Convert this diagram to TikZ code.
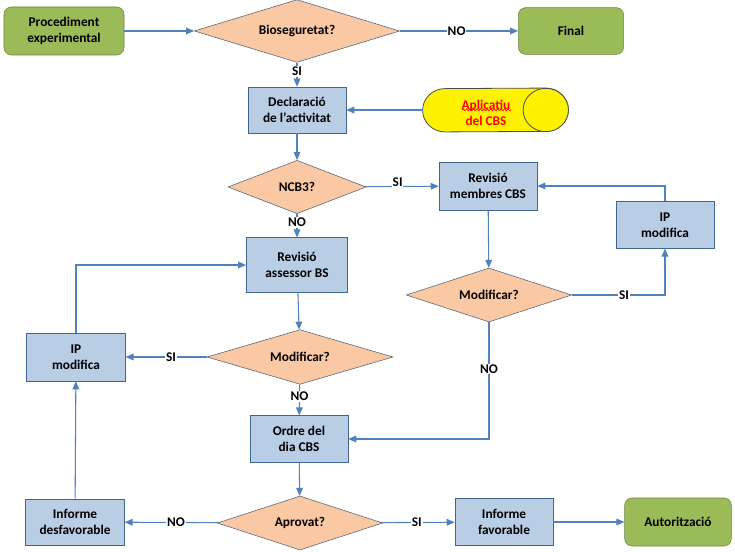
\documentclass[tikz,border=0pt]{standalone}
\usepackage{xcolor}
\usepackage{fontspec}
\setmainfont{Carlito}
\usepackage{tikz}
\usetikzlibrary{shapes.geometric, arrows.meta, decorations.pathmorphing}
\definecolor{termfill}{HTML}{9BBB59}
\definecolor{termline}{HTML}{6B8340}
\definecolor{procfill}{HTML}{B9CDE5}
\definecolor{procline}{HTML}{3F6591}
\definecolor{decfill}{HTML}{FAC8A2}
\definecolor{decline}{HTML}{4E5E74}
\definecolor{conn}{HTML}{4F81BD}
\tikzset{
    startstop/.style={rectangle, rounded corners=5.5pt, draw=termline, fill=termfill, align=center, font=\bfseries},
    process/.style={rectangle, draw=procline, fill=procfill, align=center, font=\bfseries},
    decision/.style={diamond, draw=decline, fill=decfill, inner sep=0pt, aspect=3, font=\bfseries},
    appbox/.style={draw=black!70, fill=yellow, line width=0.6pt},
    lbl/.style={fill=white, inner sep=0.6pt, font=\bfseries},
    arrow/.style={-{Triangle[length=6pt, width=5pt]}, draw=conn, line width=0.8pt}
}

\begin{document}
\begin{tikzpicture}[x=0.75pt, y=-0.75pt]
\useasboundingbox (0,0) rectangle (735,552);

% top row
\node (proc) [startstop, minimum width=90pt, minimum height=36pt] at (64,31) {Procediment\\experimental};
\node (bio) [decision, minimum width=154pt, minimum height=47pt] at (297,31) {Bioseguretat?};
\node (final) [startstop, minimum width=79pt, minimum height=35pt] at (571,31) {Final};

\node (decl) [process, minimum width=73.5pt, minimum height=34.5pt] at (297,110) {Declaració\\de l’activitat};
% application drum
\node (apl) [inner sep=0pt, minimum width=109pt, minimum height=32.5pt] at (495.5,110) {};
\draw[appbox] ([xshift=-17pt]apl.north east) arc (90:-90:17pt and 16.25pt)
    -- ([xshift=17pt]apl.south west) arc (270:90:17pt and 16.25pt) -- cycle;
\draw[appbox] ([xshift=-17pt]apl.east) ellipse (17pt and 16.25pt);
\node (apltxt) [font=\bfseries, text=red, align=center, inner sep=0pt] at (486,113) {Aplicatiu\\del CBS};
\draw [red, line width=0.5pt, decorate, decoration={snake, amplitude=0.7pt, segment length=2.6pt}]
    ([xshift=-18pt, yshift=2.4pt]apltxt.center) -- ([xshift=19pt, yshift=2.4pt]apltxt.center);

% NCB3 branch
\node (ncb) [decision, minimum width=103.5pt, minimum height=40pt] at (297,187) {NCB3?};
\node (memb) [process, minimum width=73.5pt, minimum height=36pt] at (488,186) {Revisió\\membres CBS};
\node (ipR) [process, minimum width=73.5pt, minimum height=35pt] at (665,225) {IP\\modifica};
\node (mod2) [decision, minimum width=124pt, minimum height=40.5pt] at (489,295) {Modificar?};

% assessor branch
\node (assess) [process, minimum width=76pt, minimum height=41pt] at (297,265) {Revisió\\assessor BS};
\node (mod1) [decision, minimum width=139.5pt, minimum height=41pt] at (300,357) {Modificar?};
\node (ipL) [process, minimum width=74pt, minimum height=36pt] at (76,357) {IP\\modifica};
\node (ordre) [process, minimum width=73.5pt, minimum height=35pt] at (299,439) {Ordre del\\dia CBS};

% bottom row
\node (aprov) [decision, minimum width=124pt, minimum height=40.5pt] at (300,523) {Aprovat?};
\node (desf) [process, minimum width=74pt, minimum height=34.5pt] at (75,522) {Informe\\desfavorable};
\node (fav) [process, minimum width=73.5pt, minimum height=35pt] at (504,522) {Informe\\favorable};
\node (auto) [startstop, minimum width=80pt, minimum height=36pt] at (678,522) {Autorització};

\draw[arrow] (proc) -- (bio);
\draw[arrow] (bio) -- node[lbl, pos=0.48] {NO} (final);
\draw[arrow] (bio) -- node[lbl, pos=0.36] {SI} (decl);
\draw[arrow] (apl) -- (decl);
\draw[arrow] (decl) -- (ncb);
\draw[arrow] (ncb) -- node[lbl, pos=0.44, yshift=3pt] {SI} (memb);
\draw[arrow] (ncb) -- node[lbl, pos=0.36] {NO} (assess);
\draw[arrow] (memb) -- (mod2);
\draw[arrow] (mod2.east) -| node[lbl, pos=0.28] {SI} (ipR.south);
\draw[arrow] (ipR.north) |- (memb.east);
\draw[arrow] (mod2.south) |- node[lbl, pos=0.2] {NO} (ordre.east);
\draw[arrow] (assess) -- (mod1);
\draw[arrow] (mod1) -- node[lbl, pos=0.44] {SI} (ipL);
\draw[arrow] (ipL.north) |- (assess.west);
\draw[arrow] (mod1) -- node[lbl, pos=0.39] {NO} (ordre);
\draw[arrow] (ordre) -- (aprov);
\draw[arrow] (aprov) -- node[lbl, pos=0.45] {NO} (desf);
\draw[arrow] (desf) -- (ipL);
\draw[arrow] (aprov) -- node[lbl, pos=0.48] {SI} (fav);
\draw[arrow] (fav) -- (auto);
\end{tikzpicture}
\end{document}
